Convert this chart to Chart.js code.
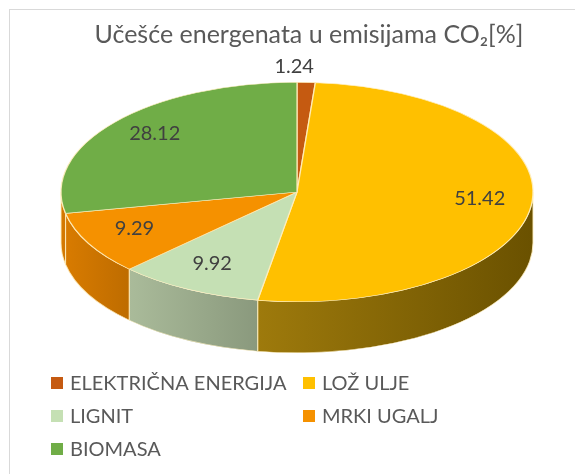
<!DOCTYPE html>
<html>
<head>
<meta charset="utf-8">
<script src="https://cdn.jsdelivr.net/npm/chart.js@4/dist/chart.umd.min.js"></script>
<style>
  html, body { margin: 0; background: #fff; }
  canvas { display: block; }
</style>
</head>
<body>
<canvas id="pie" width="575" height="474"></canvas>
<script>
// Učešće energenata u emisijama CO2 — 3D-looking pie (Excel style)
const TITLE = 'Učešće energenata u emisijama CO₂[%]';
const LABELS = ['ELEKTRIČNA ENERGIJA', 'LOŽ ULJE', 'LIGNIT', 'MRKI UGALJ', 'BIOMASA'];
const VALUES = [1.24, 51.42, 9.92, 9.29, 28.12];
const COLORS = ['#C55A11', '#FFC000', '#C5E0B4', '#F59100', '#70AD47'];
// side wall shading, light (left) -> dark (right)
const SIDE_COLORS = [
    ['#9A4510', '#7A360C'],
    ['#9E7A0C', '#6A5100'],
    ['#AABB9A', '#8A997D'],
    ['#D87B00', '#BE6C00'],
    ['#D87B00', '#D07600'],
];

const FONT = 'Lato';
const DEPTH = 51;

// extrusion under the (squashed) pie + data labels
const pie3d = {
    id: 'pie3d',
    beforeDatasetsDraw(chart) {
        const ctx = chart.ctx;
        const arcs = chart.getDatasetMeta(0).data;
        const cx = arcs[0].x, cy = arcs[0].y, R = arcs[0].outerRadius;
        const sx = (chart.chartArea.width / 2) / R;
        chart.$geo = { cx: cx, cy: cy, R: R, sx: sx };

        ctx.save();
        ctx.translate(cx, cy);
        ctx.scale(sx, 1);
        ctx.translate(-cx, -cy);
        arcs.forEach(function (arc, i) {
            const a1 = Math.max(arc.startAngle, 0);
            const a2 = Math.min(arc.endAngle, Math.PI);
            if (a2 <= a1) return;
            const xl = cx + R * Math.cos(a2);
            const xr = cx + R * Math.cos(a1);
            const g = ctx.createLinearGradient(xl, 0, xr, 0);
            g.addColorStop(0, SIDE_COLORS[i][0]);
            g.addColorStop(1, SIDE_COLORS[i][1]);
            ctx.beginPath();
            ctx.arc(cx, cy, R, a1, a2);
            ctx.arc(cx, cy + DEPTH, R, a2, a1, true);
            ctx.closePath();
            ctx.fillStyle = g;
            ctx.fill();
            ctx.lineWidth = 0.5;
            ctx.strokeStyle = 'rgba(255,238,190,0.85)';
            ctx.stroke();
        });
        // leave the squash transform on for the arcs themselves
    },
    afterDatasetsDraw(chart) {
        const ctx = chart.ctx;
        ctx.restore();
        const geo = chart.$geo;
        const arcs = chart.getDatasetMeta(0).data;
        ctx.save();
        ctx.font = '20px ' + FONT;
        ctx.fillStyle = '#404040';
        ctx.textAlign = 'center';
        ctx.textBaseline = 'middle';
        arcs.forEach(function (arc, i) {
            const mid = (arc.startAngle + arc.endAngle) / 2;
            let x, y;
            if (VALUES[i] < 3) {
                x = geo.cx + geo.sx * geo.R * Math.cos(mid) - 12;
                y = geo.cy + geo.R * Math.sin(mid) - 16;
            } else {
                x = geo.cx + geo.sx * geo.R * 0.78 * Math.cos(mid);
                y = geo.cy + geo.R * 0.78 * Math.sin(mid) - 4;
            }
            ctx.fillText(VALUES[i].toFixed(2), x, y);
        });
        ctx.restore();
    },
};

// frame, title and the two-column legend
const decor = {
    id: 'decor',
    afterDraw(chart) {
        const ctx = chart.ctx;
        ctx.save();
        ctx.strokeStyle = '#D9D9D9';
        ctx.lineWidth = 1;
        ctx.strokeRect(9.5, 9.5, 700, 700);

        ctx.fillStyle = '#595959';
        ctx.font = '25px ' + FONT;
        ctx.textAlign = 'center';
        ctx.textBaseline = 'middle';
        ctx.fillText(TITLE, 309, 35);

        const colX = [51, 303];
        const rowY = [383, 416, 449];
        ctx.font = '20px ' + FONT;
        ctx.textAlign = 'left';
        LABELS.forEach(function (lab, i) {
            const x = colX[i % 2];
            const y = rowY[Math.floor(i / 2)];
            ctx.fillStyle = COLORS[i];
            ctx.fillRect(x, y - 6, 12, 12);
            ctx.fillStyle = '#595959';
            ctx.fillText(lab, x + 19, y + 1);
        });
        ctx.restore();
    },
};

new Chart(document.getElementById('pie'), {
    type: 'pie',
    data: {
        labels: LABELS,
        datasets: [{
            data: VALUES,
            backgroundColor: COLORS,
            borderColor: 'rgba(255,238,190,0.9)',
            borderWidth: 0.6,
            clip: false,
        }],
    },
    options: {
        responsive: false,
        animation: false,
        devicePixelRatio: 1,
        events: [],
        layout: { padding: { top: 82, left: 61, right: 42, bottom: 172 } },
        plugins: {
            legend: { display: false },
            title: { display: false },
            tooltip: { enabled: false },
        },
    },
    plugins: [pie3d, decor],
});
</script>
</body>
</html>
